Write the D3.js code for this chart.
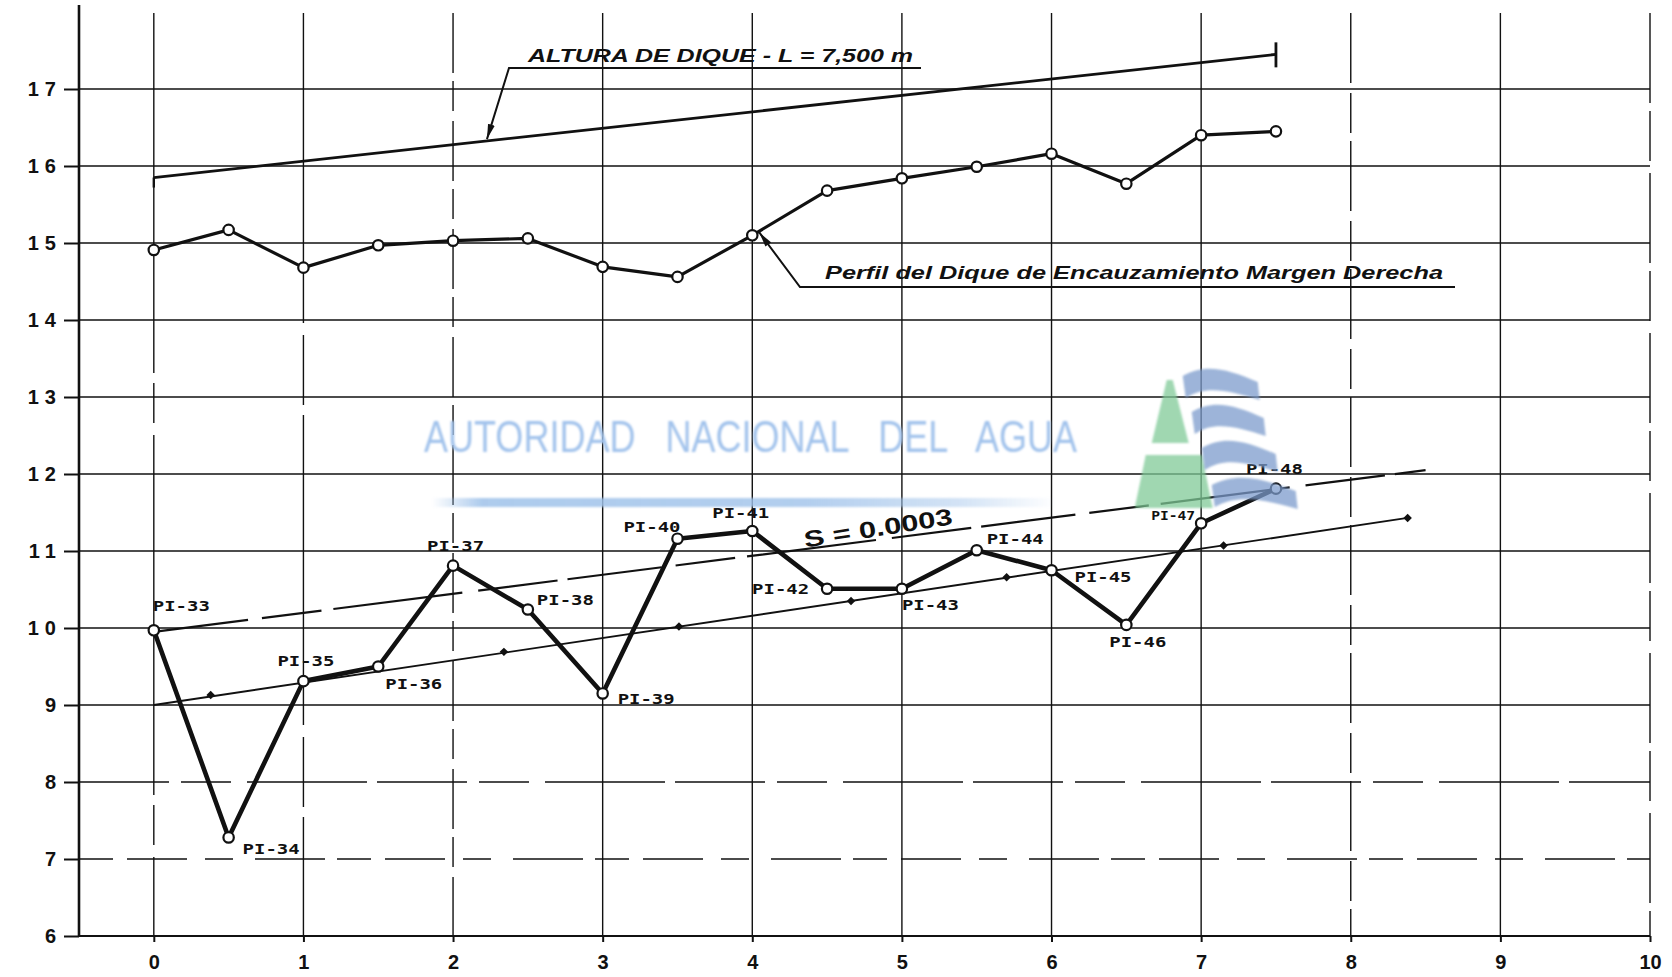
<!DOCTYPE html>
<html>
<head>
<meta charset="utf-8">
<script src="https://cdn.jsdelivr.net/npm/d3@7"></script>
<style>
  html, body { margin: 0; padding: 0; background: #fff; }
  svg { display: block; }
</style>
</head>
<body>
<svg id="chart" width="1672" height="977"></svg>
<script>
// ---- data --------------------------------------------------------------
// Stations along the dike (km)
const stations = [0, 0.5, 1, 1.5, 2, 2.5, 3, 3.5, 4, 4.5, 5, 5.5, 6, 6.5, 7, 7.5];
// Crest profile of the right-bank channelling dike (m)
const perfilLevels = [14.91, 15.17, 14.68, 14.97, 15.03, 15.06, 14.69, 14.56, 15.10, 15.68, 15.84, 15.99, 16.16, 15.77, 16.40, 16.45];
// Inspection points PI-33 ... PI-48 (m)
const piNames = ["PI-33", "PI-34", "PI-35", "PI-36", "PI-37", "PI-38", "PI-39", "PI-40",
                 "PI-41", "PI-42", "PI-43", "PI-44", "PI-45", "PI-46", "PI-47", "PI-48"];
const piLevels = [9.97, 7.28, 9.31, 9.50, 10.81, 10.24, 9.15, 11.16, 11.26, 10.51, 10.51, 11.01, 10.75, 10.04, 11.36, 11.81];
// Design dike height, L = 7,500 m
const alturaStations = [0, 7.5];
const alturaLevels = [15.85, 17.45];
// Dashed upper grade line
const gradeStations = [0, 8.5];
const gradeLevels = [9.95, 12.05];
// Thin grade line S = 0.0003 and its station marks
const slopeStations = [0, 8.38];
const slopeLevels = [9.0, 11.43];
const slopeMarkStations = [0.38, 2.34, 3.51, 4.66, 5.70, 7.15, 8.38];
const slopeMarkLevels = [9.13, 9.69, 10.02, 10.35, 10.66, 11.07, 11.43];
// Axis ticks
const xTicks = [0, 1, 2, 3, 4, 5, 6, 7, 8, 9, 10];
const yTicks = [6, 7, 8, 9, 10, 11, 12, 13, 14, 15, 16, 17];

// ---- layout ------------------------------------------------------------
const W = 1672, H = 977;
const svg = d3.select("#chart");
svg.append("rect").attr("width", W).attr("height", H).attr("fill", "#fff");

const x = d3.scaleLinear().domain([-0.5, 10]).range([79, 1650]);
const y = d3.scaleLinear().domain([6, 18]).range([936, 12]);
const ink = "#111";

// label offsets (px) for the PI labels, relative to each point
const piLabelOffsets = [[-1, -24], [14, 12], [-26, -20], [7, 17], [-26, -20], [9, -10], [15, 6], [-54, -12],
                        [-40, -18], [-75, 0], [0, 16], [10, -11], [23, 7], [-17, 17], [-50, -7], [-30, -20]];

// ---- grid --------------------------------------------------------------
const hDash = { 7: "34,14,60,18,28,22,70,12", 8: "90,12,50,16,120,10" };
const vDash = { 0: "300,0,60,10,40,12", 1: "260,0,50,12,70,10", 2: "60,8,30,10", 8: "70,10,40,8", 10: "90,8,50,12" };

const grid = svg.append("g").attr("stroke", ink).attr("stroke-width", 1.4).attr("fill", "none");
grid.selectAll("line.h").data(yTicks.filter(d => d > 6)).join("line")
  .attr("x1", x(-0.5)).attr("x2", x(10))
  .attr("y1", d => y(d)).attr("y2", d => y(d))
  .attr("stroke-dasharray", d => hDash[d] || null);
grid.selectAll("line.v").data(xTicks).join("line")
  .attr("x1", d => x(d)).attr("x2", d => x(d))
  .attr("y1", y(18) + 1).attr("y2", y(6))
  .attr("stroke-dasharray", d => vDash[d] || null);

// axis frame lines
svg.append("line").attr("x1", x(-0.5)).attr("x2", x(-0.5)).attr("y1", 5).attr("y2", y(6))
  .attr("stroke", ink).attr("stroke-width", 2.6);
svg.append("line").attr("x1", x(-0.5)).attr("x2", x(10)).attr("y1", y(6)).attr("y2", y(6))
  .attr("stroke", ink).attr("stroke-width", 2.2);

// ---- axes --------------------------------------------------------------
const yAxis = svg.append("g").attr("transform", `translate(${x(-0.5)},0)`)
  .call(d3.axisLeft(y).tickValues(yTicks).tickSize(15).tickPadding(2).tickFormat(d3.format("d")));
yAxis.select(".domain").remove();
yAxis.selectAll(".tick line").attr("stroke", ink).attr("stroke-width", 2);
yAxis.selectAll(".tick text")
  .attr("fill", ink).style("font", "bold 20px 'Liberation Sans', Arial, sans-serif")
  .style("letter-spacing", "6px");

const xAxis = svg.append("g").attr("transform", `translate(0,${y(6)})`)
  .call(d3.axisBottom(x).tickValues(xTicks).tickSize(6).tickPadding(13).tickFormat(d3.format("d")));
xAxis.select(".domain").remove();
xAxis.selectAll(".tick line").attr("stroke", ink).attr("stroke-width", 2);
xAxis.selectAll(".tick text")
  .attr("fill", ink).style("font", "bold 20px 'Liberation Sans', Arial, sans-serif");

// ---- series ------------------------------------------------------------
const line = d3.line().x(d => x(d[0])).y(d => y(d[1]));
const zip = (a, b) => a.map((v, i) => [v, b[i]]);

const perfil = zip(stations, perfilLevels);
const pi = zip(stations, piLevels);
const altura = zip(alturaStations, alturaLevels);
const grade = zip(gradeStations, gradeLevels);
const slope = zip(slopeStations, slopeLevels);
const slopeMarks = zip(slopeMarkStations, slopeMarkLevels);

// thin grade line with station marks
svg.append("path").datum(slope).attr("d", line)
  .attr("fill", "none").attr("stroke", ink).attr("stroke-width", 1.9);
svg.append("g").selectAll("rect").data(slopeMarks).join("rect")
  .attr("x", d => x(d[0]) - 3).attr("y", d => y(d[1]) - 3)
  .attr("width", 6).attr("height", 6).attr("fill", ink)
  .attr("transform", d => `rotate(45,${x(d[0])},${y(d[1])})`);

// dashed grade line
svg.append("path").datum(grade).attr("d", line)
  .attr("fill", "none").attr("stroke", ink).attr("stroke-width", 2.2)
  .attr("stroke-dasharray", "95,14,60,12,130,16,80,10");

// design height line with end bar
svg.append("path").datum(altura).attr("d", line)
  .attr("fill", "none").attr("stroke", ink).attr("stroke-width", 2.8);
svg.append("line")
  .attr("x1", x(altura[1][0])).attr("x2", x(altura[1][0]))
  .attr("y1", y(altura[1][1]) - 12).attr("y2", y(altura[1][1]) + 13)
  .attr("stroke", ink).attr("stroke-width", 2.8);
svg.append("line")
  .attr("x1", x(altura[0][0])).attr("x2", x(altura[0][0]))
  .attr("y1", y(altura[0][1])).attr("y2", y(altura[0][1]) + 10)
  .attr("stroke", ink).attr("stroke-width", 2.4);

// dike crest profile
svg.append("path").datum(perfil).attr("d", line)
  .attr("fill", "none").attr("stroke", ink).attr("stroke-width", 3.2).attr("stroke-linejoin", "round");
svg.append("g").selectAll("circle").data(perfil).join("circle")
  .attr("cx", d => x(d[0])).attr("cy", d => y(d[1])).attr("r", 5.2)
  .attr("fill", "#fff").attr("stroke", ink).attr("stroke-width", 2.2);

// inspection points
svg.append("path").datum(pi).attr("d", line)
  .attr("fill", "none").attr("stroke", ink).attr("stroke-width", 4.6).attr("stroke-linejoin", "round");
svg.append("g").selectAll("circle").data(pi).join("circle")
  .attr("cx", d => x(d[0])).attr("cy", d => y(d[1])).attr("r", 5.2)
  .attr("fill", "#fff").attr("stroke", ink).attr("stroke-width", 2.2);
svg.append("g").selectAll("text").data(pi).join("text")
  .attr("x", (d, i) => x(d[0]) + piLabelOffsets[i][0])
  .attr("y", (d, i) => y(d[1]) + piLabelOffsets[i][1])
  .attr("dominant-baseline", "central")
  .attr("textLength", (d, i) => i === 14 ? 44 : 57)
  .attr("lengthAdjust", "spacingAndGlyphs")
  .attr("fill", ink)
  .style("font", (d, i) => i === 14 ? "bold 12px 'DejaVu Sans Mono', monospace" : "bold 14px 'DejaVu Sans Mono', monospace")
  .text((d, i) => piNames[i]);

// ---- annotations -------------------------------------------------------
const defs = svg.append("defs");
defs.append("marker").attr("id", "arrow").attr("markerUnits", "userSpaceOnUse")
  .attr("markerWidth", 16).attr("markerHeight", 8).attr("refX", 15).attr("refY", 4)
  .attr("orient", "auto")
  .append("path").attr("d", "M0,0.5 L15,4 L0,7.5 Z").attr("fill", ink);

const annoFont = "italic bold 19px 'Liberation Sans', Arial, sans-serif";

// design height label
const altTip = [x(2.22), y(15.85 + 2.22 * (17.45 - 15.85) / 7.5)];
svg.append("text").attr("x", 528).attr("y", 62)
  .attr("textLength", 385).attr("lengthAdjust", "spacingAndGlyphs")
  .attr("fill", ink).style("font", annoFont)
  .text("ALTURA DE DIQUE - L = 7,500 m");
svg.append("polyline").attr("points", `921,68 509,68 ${altTip[0] + 1},${altTip[1] - 2}`)
  .attr("fill", "none").attr("stroke", ink).attr("stroke-width", 2)
  .attr("marker-end", "url(#arrow)");

// profile label
const perTip = [x(4.04), y(15.15)];
svg.append("text").attr("x", 825).attr("y", 279)
  .attr("textLength", 618).attr("lengthAdjust", "spacingAndGlyphs")
  .attr("fill", ink).style("font", "italic bold 18px 'Liberation Sans', Arial, sans-serif")
  .text("Perfil del Dique de Encauzamiento Margen Derecha");
svg.append("polyline").attr("points", `1455,287 800,287 ${perTip[0] + 1},${perTip[1] + 1}`)
  .attr("fill", "none").attr("stroke", ink).attr("stroke-width", 2)
  .attr("marker-end", "url(#arrow)");

// slope label
svg.append("text").attr("transform", "translate(878,528) rotate(-9)")
  .attr("text-anchor", "middle").attr("dominant-baseline", "central")
  .attr("textLength", 150).attr("lengthAdjust", "spacingAndGlyphs")
  .attr("fill", ink).style("font", "bold 23px 'Liberation Sans', Arial, sans-serif")
  .text("S = 0.0003");

// ---- watermark ---------------------------------------------------------
const blur = defs.append("filter").attr("id", "soft").attr("x", "-5%").attr("y", "-20%")
  .attr("width", "110%").attr("height", "140%");
blur.append("feGaussianBlur").attr("stdDeviation", 0.9);

const grad = defs.append("linearGradient").attr("id", "bar").attr("x1", "0").attr("x2", "1");
[[0, 0], [0.08, 0.85], [0.6, 0.8], [0.85, 0.45], [1, 0]].forEach(([o, a]) =>
  grad.append("stop").attr("offset", o).attr("stop-color", "#9fc2ea").attr("stop-opacity", a));

const wm = svg.append("g").attr("filter", "url(#soft)");
wm.append("text").attr("x", 424).attr("y", 452)
  .attr("textLength", 653).attr("lengthAdjust", "spacingAndGlyphs")
  .attr("fill", "#a2c3ec")
  .style("font", "500 44px 'Liberation Sans', Arial, sans-serif")
  .style("white-space", "pre")
  .text("AUTORIDAD   NACIONAL   DEL   AGUA");
wm.append("rect").attr("x", 432).attr("y", 498).attr("width", 624).attr("height", 9)
  .attr("fill", "url(#bar)");

// logo: green pyramid and blue waves
const logoAt = [x(6.79), y(13.22)];
const logo = svg.append("g").attr("transform", `translate(${logoAt[0]},${logoAt[1]})`)
  .attr("filter", "url(#soft)").attr("opacity", 0.74);
logo.append("path").attr("d", "M-3,0 L3,0 L19,63 L-18,63 Z").attr("fill", "#7fca97");
logo.append("path").attr("d", "M-24,75 L32,75 L43,128 L-35,128 Z").attr("fill", "#7fca97");
const waves = [[13, -12, 75], [22, 24, 72], [32, 60, 74], [42, 97, 84]];
waves.forEach(([L, T, Wd]) => {
  const p = d3.path();
  p.moveTo(L, T + 8);
  p.bezierCurveTo(L + 0.3 * Wd, T - 5, L + 0.6 * Wd, T + 1, L + Wd, T + 14);
  p.lineTo(L + Wd + 2, T + 32);
  p.bezierCurveTo(L + 0.6 * Wd, T + 22, L + 0.3 * Wd, T + 17, L + 3, T + 30);
  p.closePath();
  logo.append("path").attr("d", p.toString()).attr("fill", "#7c9bcc");
});
</script>
</body>
</html>
